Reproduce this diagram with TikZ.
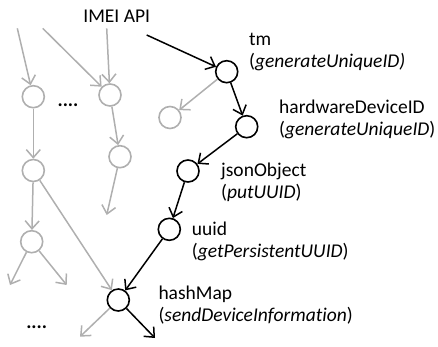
\documentclass[tikz,border=0pt]{standalone}
\usepackage{fontspec}
\setmainfont{Carlito}[Ligatures=NoCommon]
\usetikzlibrary{arrows.meta}
\definecolor{lg}{RGB}{175,175,175}
\tikzset{
  circ/.style={circle,draw,line width=1.6pt,minimum size=22pt,inner sep=0pt},
  gcirc/.style={circ,draw=lg},
  bcirc/.style={circ,draw=black},
  arr/.style={line width=1.5pt,-{Straight Barb[length=8pt,width=14pt,line width=1.5pt]}},
  garr/.style={arr,draw=lg},
  barr/.style={arr,draw=black},
  lbl/.style={anchor=west,inner sep=0pt,align=left,font=\fontsize{19.5}{22}\selectfont},
}
\begin{document}
\begin{tikzpicture}[x=1pt,y=-1pt]
\useasboundingbox (0,0) rectangle (438,346);
% black nodes
\node[bcirc] (tm) at (226.7,71.7) {};
\node[bcirc] (hw) at (246.7,126.7) {};
\node[bcirc] (js) at (188,171) {};
\node[bcirc] (uu) at (169.3,229.3) {};
\node[bcirc] (hm) at (118.3,300) {};
% gray nodes
\node[gcirc] (g1) at (170,117.5) {};
\node[gcirc] (A) at (33.3,96.7) {};
\node[gcirc] (B) at (33.3,170.5) {};
\node[gcirc] (C) at (31.7,241.7) {};
\node[gcirc] (D) at (110,95) {};
\node[gcirc] (E) at (120,156.7) {};
% free ends
\coordinate (s1) at (17.3,28.3);
\coordinate (s2) at (42.7,28.3);
\coordinate (s3) at (106.7,28.3);
\coordinate (e1) at (106.7,215);
\coordinate (c1) at (10,285);
\coordinate (c2) at (66.7,285);
\coordinate (h1) at (80,336.7);
\coordinate (h2) at (155,338);
\coordinate (im) at (146.7,35);
% text
\node[lbl,anchor=center] (api) at (116.7,16.7) {IMEI API};
\node[lbl] (ltm) at (249,51.7) {tm\\(\textit{generateUniqueID)}};
\node[lbl] (lhw) at (279,119) {hardwareDeviceID\\(\textit{generateUniqueID})};
\node[lbl] (ljs) at (221,182) {jsonObject\\(\textit{putUUID})};
\node[lbl] (luu) at (191.7,241.7) {uuid\\(\textit{getPersistentUUID})};
\node[lbl] (lhm) at (158.3,305) {hashMap\\(\textit{sendDeviceInformation})};
\node[lbl,anchor=center] (d1) at (68,105) {\textbf{....}};
\node[lbl,anchor=center] (d2) at (36.7,326.7) {\textbf{....}};
% gray arrows
\draw[garr] (s1) -- (A);
\draw[garr] (s2) -- (D);
\draw[garr] (s3) -- (D);
\draw[garr] (A) -- (B);
\draw[garr] (D) -- (E);
\draw[garr] (E) -- (e1);
\draw[garr] (B) -- (C);
\draw[garr] (B) -- (hm);
\draw[garr] (C) -- (c1);
\draw[garr] (C) -- (c2);
\draw[garr] (hm) -- (h1);
\draw[garr] (tm) -- (g1);
% black arrows
\draw[barr] (im) -- (tm);
\draw[barr] (tm) -- (hw);
\draw[barr] (hw) -- (js);
\draw[barr] (js) -- (uu);
\draw[barr] (uu) -- (hm);
\draw[barr] (hm) -- (h2);
\end{tikzpicture}
\end{document}
